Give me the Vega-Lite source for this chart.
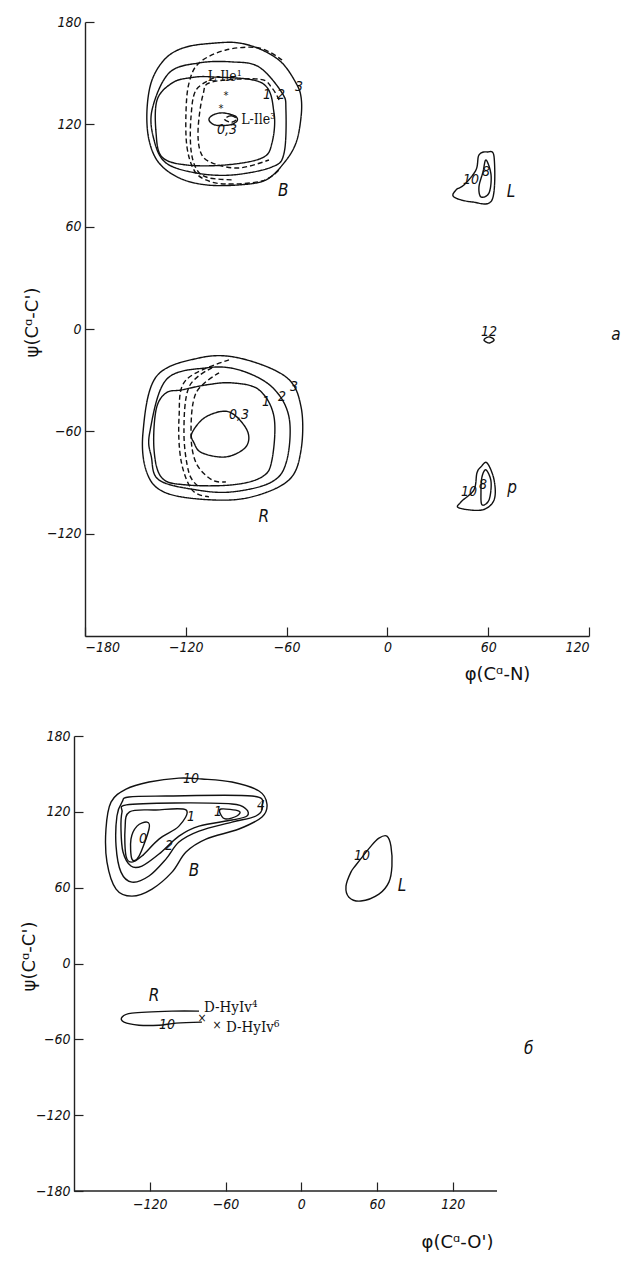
{
"$schema":"https://vega.github.io/schema/vega-lite/v6.json",
"padding":{"left":20,"top":15,"right":5,"bottom":5},
"spacing":46,
"background":"white",
"config":{"view":{"stroke":null},
 "axis":{"grid":false,"domainColor":"#222","tickColor":"#222","labelColor":"#111","titleColor":"#111","labelFont":"DejaVu Sans Condensed, DejaVu Sans","labelFontStyle":"italic","labelFontSize":14,"titleFont":"DejaVu Sans","titleFontSize":18,"titleFontWeight":"normal","tickSize":-9,"labelPadding":13,"domainWidth":1.4,"tickWidth":1.2},
 "text":{"font":"DejaVu Sans Condensed, DejaVu Sans","fill":"#111"}},
"datasets":{
"topLines":[
{"c":"B3","k":"closed","s":"solid","o":1,"x":-74.6,"y":163.6},{"c":"B3","k":"closed","s":"solid","o":2,"x":-88.3,"y":167.7},{"c":"B3","k":"closed","s":"solid","o":3,"x":-102,"y":167.7},{"c":"B3","k":"closed","s":"solid","o":4,"x":-119.9,"y":165.3},{"c":"B3","k":"closed","s":"solid","o":5,"x":-131.8,"y":158.9},{"c":"B3","k":"closed","s":"solid","o":6,"x":-140.1,"y":146},{"c":"B3","k":"closed","s":"solid","o":7,"x":-143.1,"y":128.4},{"c":"B3","k":"closed","s":"solid","o":8,"x":-141.9,"y":110.8},{"c":"B3","k":"closed","s":"solid","o":9,"x":-136,"y":97.4},{"c":"B3","k":"closed","s":"solid","o":10,"x":-124,"y":88.6},{"c":"B3","k":"closed","s":"solid","o":11,"x":-108,"y":84.5},{"c":"B3","k":"closed","s":"solid","o":12,"x":-88.3,"y":84.5},{"c":"B3","k":"closed","s":"solid","o":13,"x":-72.3,"y":87.4},{"c":"B3","k":"closed","s":"solid","o":14,"x":-61.5,"y":97.4},{"c":"B3","k":"closed","s":"solid","o":15,"x":-54.4,"y":109.1},{"c":"B3","k":"closed","s":"solid","o":16,"x":-51.4,"y":124.3},{"c":"B3","k":"closed","s":"solid","o":17,"x":-51.4,"y":136},{"c":"B3","k":"closed","s":"solid","o":18,"x":-54.4,"y":144.2},{"c":"B3","k":"closed","s":"solid","o":19,"x":-62.7,"y":156},
{"c":"B2","k":"closed","s":"solid","o":1,"x":-140.1,"y":128.4},{"c":"B2","k":"closed","s":"solid","o":2,"x":-130,"y":150.1},{"c":"B2","k":"closed","s":"solid","o":3,"x":-112.1,"y":156},{"c":"B2","k":"closed","s":"solid","o":4,"x":-92.5,"y":156.6},{"c":"B2","k":"closed","s":"solid","o":5,"x":-76.4,"y":153.6},{"c":"B2","k":"closed","s":"solid","o":6,"x":-62.7,"y":138.4},{"c":"B2","k":"closed","s":"solid","o":7,"x":-60.4,"y":128.4},{"c":"B2","k":"closed","s":"solid","o":8,"x":-61.5,"y":103.2},{"c":"B2","k":"closed","s":"solid","o":9,"x":-68.7,"y":95},{"c":"B2","k":"closed","s":"solid","o":10,"x":-92.5,"y":90.3},{"c":"B2","k":"closed","s":"solid","o":11,"x":-113.9,"y":91.5},{"c":"B2","k":"closed","s":"solid","o":12,"x":-131.8,"y":97.4},{"c":"B2","k":"closed","s":"solid","o":13,"x":-138.9,"y":110.8},
{"c":"B1","k":"closed","s":"solid","o":1,"x":-118.1,"y":147.2},{"c":"B1","k":"closed","s":"solid","o":2,"x":-104.4,"y":147.8},{"c":"B1","k":"closed","s":"solid","o":3,"x":-74.6,"y":144.2},{"c":"B1","k":"closed","s":"solid","o":4,"x":-67.5,"y":126.7},{"c":"B1","k":"closed","s":"solid","o":5,"x":-68.7,"y":109.1},{"c":"B1","k":"closed","s":"solid","o":6,"x":-74.6,"y":100.3},{"c":"B1","k":"closed","s":"solid","o":7,"x":-96.1,"y":96.2},{"c":"B1","k":"closed","s":"solid","o":8,"x":-119.9,"y":96.2},{"c":"B1","k":"closed","s":"solid","o":9,"x":-134.2,"y":100.9},{"c":"B1","k":"closed","s":"solid","o":10,"x":-137.7,"y":114.9},{"c":"B1","k":"closed","s":"solid","o":11,"x":-137.1,"y":134.3},{"c":"B1","k":"closed","s":"solid","o":12,"x":-128.2,"y":144.2},
{"c":"B03","k":"closed","s":"solid","o":1,"x":-106.2,"y":122.6},{"c":"B03","k":"closed","s":"solid","o":2,"x":-103.8,"y":125.5},{"c":"B03","k":"closed","s":"solid","o":3,"x":-97.9,"y":126.7},{"c":"B03","k":"closed","s":"solid","o":4,"x":-90.7,"y":124.9},{"c":"B03","k":"closed","s":"solid","o":5,"x":-89.5,"y":122},{"c":"B03","k":"closed","s":"solid","o":6,"x":-94.3,"y":119.6},{"c":"B03","k":"closed","s":"solid","o":7,"x":-102.6,"y":119.6},
{"c":"B03d","k":"closed","s":"dashed","o":1,"x":-97,"y":123.1},{"c":"B03d","k":"closed","s":"dashed","o":2,"x":-93,"y":125},{"c":"B03d","k":"closed","s":"dashed","o":3,"x":-89.6,"y":123.1},{"c":"B03d","k":"closed","s":"dashed","o":4,"x":-93,"y":121.2},
{"c":"BD1","k":"open","s":"dashed","o":1,"x":-62.7,"y":157.7},{"c":"BD1","k":"open","s":"dashed","o":2,"x":-76.4,"y":164.8},{"c":"BD1","k":"open","s":"dashed","o":3,"x":-96.1,"y":163.6},{"c":"BD1","k":"open","s":"dashed","o":4,"x":-112.1,"y":156},{"c":"BD1","k":"open","s":"dashed","o":5,"x":-118.1,"y":144.2},{"c":"BD1","k":"open","s":"dashed","o":6,"x":-119.9,"y":126.7},{"c":"BD1","k":"open","s":"dashed","o":7,"x":-119.3,"y":106.7},{"c":"BD1","k":"open","s":"dashed","o":8,"x":-115.1,"y":93.2},{"c":"BD1","k":"open","s":"dashed","o":9,"x":-108,"y":87.4},{"c":"BD1","k":"open","s":"dashed","o":10,"x":-96.1,"y":85},{"c":"BD1","k":"open","s":"dashed","o":11,"x":-74.6,"y":86.8},{"c":"BD1","k":"open","s":"dashed","o":12,"x":-64.5,"y":93.2},
{"c":"BD2","k":"open","s":"dashed","o":1,"x":-103.2,"y":147.2},{"c":"BD2","k":"open","s":"dashed","o":2,"x":-113.9,"y":140.1},{"c":"BD2","k":"open","s":"dashed","o":3,"x":-116.9,"y":124.3},{"c":"BD2","k":"open","s":"dashed","o":4,"x":-116.9,"y":105},{"c":"BD2","k":"open","s":"dashed","o":5,"x":-113.3,"y":93.2},{"c":"BD2","k":"open","s":"dashed","o":6,"x":-106.2,"y":88.6},{"c":"BD2","k":"open","s":"dashed","o":7,"x":-91.3,"y":87.4},
{"c":"BD3","k":"open","s":"dashed","o":1,"x":-64.5,"y":134.3},{"c":"BD3","k":"open","s":"dashed","o":2,"x":-68.7,"y":141.3},{"c":"BD3","k":"open","s":"dashed","o":3,"x":-76.4,"y":146.5},{"c":"BD3","k":"open","s":"dashed","o":4,"x":-104.4,"y":144.8},{"c":"BD3","k":"open","s":"dashed","o":5,"x":-109.8,"y":137.2},{"c":"BD3","k":"open","s":"dashed","o":6,"x":-112.7,"y":116.7},{"c":"BD3","k":"open","s":"dashed","o":7,"x":-111,"y":103.2},{"c":"BD3","k":"open","s":"dashed","o":8,"x":-104.4,"y":97.4},{"c":"BD3","k":"open","s":"dashed","o":9,"x":-88.3,"y":94.4},{"c":"BD3","k":"open","s":"dashed","o":10,"x":-70.5,"y":99.1},
{"c":"R3","k":"closed","s":"solid","o":1,"x":-145.5,"y":-60.9},{"c":"R3","k":"closed","s":"solid","o":2,"x":-137.7,"y":-28.1},{"c":"R3","k":"closed","s":"solid","o":3,"x":-112.1,"y":-17},{"c":"R3","k":"closed","s":"solid","o":4,"x":-88.3,"y":-17},{"c":"R3","k":"closed","s":"solid","o":5,"x":-60.4,"y":-28.1},{"c":"R3","k":"closed","s":"solid","o":6,"x":-51.4,"y":-45.7},{"c":"R3","k":"closed","s":"solid","o":7,"x":-51.4,"y":-70.9},{"c":"R3","k":"closed","s":"solid","o":8,"x":-58.6,"y":-88.5},{"c":"R3","k":"closed","s":"solid","o":9,"x":-80.6,"y":-98.4},{"c":"R3","k":"closed","s":"solid","o":10,"x":-104.4,"y":-100.2},{"c":"R3","k":"closed","s":"solid","o":11,"x":-131.8,"y":-96.1},{"c":"R3","k":"closed","s":"solid","o":12,"x":-143.1,"y":-84.4},
{"c":"R2","k":"closed","s":"solid","o":1,"x":-141.5,"y":-60.9},{"c":"R2","k":"closed","s":"solid","o":2,"x":-131.8,"y":-29.9},{"c":"R2","k":"closed","s":"solid","o":3,"x":-108,"y":-22.8},{"c":"R2","k":"closed","s":"solid","o":4,"x":-88.3,"y":-24},{"c":"R2","k":"closed","s":"solid","o":5,"x":-68.7,"y":-34},{"c":"R2","k":"closed","s":"solid","o":6,"x":-58.6,"y":-51.5},{"c":"R2","k":"closed","s":"solid","o":7,"x":-59.8,"y":-76.7},{"c":"R2","k":"closed","s":"solid","o":8,"x":-68.7,"y":-89.6},{"c":"R2","k":"closed","s":"solid","o":9,"x":-92.5,"y":-95.5},{"c":"R2","k":"closed","s":"solid","o":10,"x":-113.9,"y":-94.3},{"c":"R2","k":"closed","s":"solid","o":11,"x":-136,"y":-88.5},{"c":"R2","k":"closed","s":"solid","o":12,"x":-140.5,"y":-75},
{"c":"R1","k":"closed","s":"solid","o":1,"x":-122.3,"y":-35.7},{"c":"R1","k":"closed","s":"solid","o":2,"x":-108,"y":-32.8},{"c":"R1","k":"closed","s":"solid","o":3,"x":-92.5,"y":-31.6},{"c":"R1","k":"closed","s":"solid","o":4,"x":-76.4,"y":-35.7},{"c":"R1","k":"closed","s":"solid","o":5,"x":-67.5,"y":-51.5},{"c":"R1","k":"closed","s":"solid","o":6,"x":-68.7,"y":-76.7},{"c":"R1","k":"closed","s":"solid","o":7,"x":-74.6,"y":-86.7},{"c":"R1","k":"closed","s":"solid","o":8,"x":-92.5,"y":-91.4},{"c":"R1","k":"closed","s":"solid","o":9,"x":-119.9,"y":-91.4},{"c":"R1","k":"closed","s":"solid","o":10,"x":-134.2,"y":-87.3},{"c":"R1","k":"closed","s":"solid","o":11,"x":-138.9,"y":-70.9},{"c":"R1","k":"closed","s":"solid","o":12,"x":-137.7,"y":-47.4},{"c":"R1","k":"closed","s":"solid","o":13,"x":-131.8,"y":-37.5},
{"c":"R03","k":"closed","s":"solid","o":1,"x":-116.3,"y":-60.9},{"c":"R03","k":"closed","s":"solid","o":2,"x":-108,"y":-51.5},{"c":"R03","k":"closed","s":"solid","o":3,"x":-94.3,"y":-48.6},{"c":"R03","k":"closed","s":"solid","o":4,"x":-83.6,"y":-59.2},{"c":"R03","k":"closed","s":"solid","o":5,"x":-84.2,"y":-69.1},{"c":"R03","k":"closed","s":"solid","o":6,"x":-96.1,"y":-75},{"c":"R03","k":"closed","s":"solid","o":7,"x":-110.4,"y":-72.6},{"c":"R03","k":"closed","s":"solid","o":8,"x":-115.1,"y":-66.8},
{"c":"RD1","k":"open","s":"dashed","o":1,"x":-94.3,"y":-18.1},{"c":"RD1","k":"open","s":"dashed","o":2,"x":-119.9,"y":-29.9},{"c":"RD1","k":"open","s":"dashed","o":3,"x":-124,"y":-51.5},{"c":"RD1","k":"open","s":"dashed","o":4,"x":-122.9,"y":-76.7},{"c":"RD1","k":"open","s":"dashed","o":5,"x":-116.3,"y":-94.3},{"c":"RD1","k":"open","s":"dashed","o":6,"x":-106.2,"y":-98.4},
{"c":"RD2","k":"open","s":"dashed","o":1,"x":-104.4,"y":-22.8},{"c":"RD2","k":"open","s":"dashed","o":2,"x":-118.1,"y":-34},{"c":"RD2","k":"open","s":"dashed","o":3,"x":-121.1,"y":-60.9},{"c":"RD2","k":"open","s":"dashed","o":4,"x":-118.1,"y":-84.4},{"c":"RD2","k":"open","s":"dashed","o":5,"x":-112.1,"y":-92.6},
{"c":"RD3","k":"open","s":"dashed","o":1,"x":-100.2,"y":-25.7},{"c":"RD3","k":"open","s":"dashed","o":2,"x":-113.9,"y":-37.5},{"c":"RD3","k":"open","s":"dashed","o":3,"x":-116.9,"y":-60.9},{"c":"RD3","k":"open","s":"dashed","o":4,"x":-113.9,"y":-78.5},{"c":"RD3","k":"open","s":"dashed","o":5,"x":-104.4,"y":-88.5},{"c":"RD3","k":"open","s":"dashed","o":6,"x":-96.1,"y":-89.6},
{"c":"L10","k":"closed","s":"solid","o":1,"x":39.6,"y":77.4},{"c":"L10","k":"closed","s":"solid","o":2,"x":50.4,"y":74.5},{"c":"L10","k":"closed","s":"solid","o":3,"x":62.3,"y":75.7},{"c":"L10","k":"closed","s":"solid","o":4,"x":63.5,"y":100.9},{"c":"L10","k":"closed","s":"solid","o":5,"x":59.3,"y":103.8},{"c":"L10","k":"closed","s":"solid","o":6,"x":54.5,"y":102},{"c":"L10","k":"closed","s":"solid","o":7,"x":52.7,"y":93.2},{"c":"L10","k":"closed","s":"solid","o":8,"x":45.6,"y":84.5},{"c":"L10","k":"closed","s":"solid","o":9,"x":40.8,"y":81.5},
{"c":"L8","k":"closed","s":"solid","o":1,"x":58.7,"y":99.1},{"c":"L8","k":"closed","s":"solid","o":2,"x":61.7,"y":90.3},{"c":"L8","k":"closed","s":"solid","o":3,"x":60.5,"y":79.8},{"c":"L8","k":"closed","s":"solid","o":4,"x":55.7,"y":77.4},{"c":"L8","k":"closed","s":"solid","o":5,"x":54.5,"y":83.3},{"c":"L8","k":"closed","s":"solid","o":6,"x":56.9,"y":92.1},
{"c":"P10","k":"closed","s":"solid","o":1,"x":59.3,"y":-78.5},{"c":"P10","k":"closed","s":"solid","o":2,"x":63.5,"y":-88.5},{"c":"P10","k":"closed","s":"solid","o":3,"x":63.5,"y":-100.2},{"c":"P10","k":"closed","s":"solid","o":4,"x":56.3,"y":-106.1},{"c":"P10","k":"closed","s":"solid","o":5,"x":42.6,"y":-104.9},{"c":"P10","k":"closed","s":"solid","o":6,"x":43.8,"y":-101.4},{"c":"P10","k":"closed","s":"solid","o":7,"x":51.5,"y":-94.3},{"c":"P10","k":"closed","s":"solid","o":8,"x":53.3,"y":-84.4},{"c":"P10","k":"closed","s":"solid","o":9,"x":55.7,"y":-80.8},
{"c":"P8","k":"closed","s":"solid","o":1,"x":58.7,"y":-82.6},{"c":"P8","k":"closed","s":"solid","o":2,"x":61.7,"y":-89.6},{"c":"P8","k":"closed","s":"solid","o":3,"x":60.5,"y":-100.2},{"c":"P8","k":"closed","s":"solid","o":4,"x":56.3,"y":-103.1},{"c":"P8","k":"closed","s":"solid","o":5,"x":55.7,"y":-95.5},{"c":"P8","k":"closed","s":"solid","o":6,"x":56.3,"y":-86.7},
{"c":"Q12","k":"closed","s":"solid","o":1,"x":57.5,"y":-6.4},{"c":"Q12","k":"closed","s":"solid","o":2,"x":60.5,"y":-4.6},{"c":"Q12","k":"closed","s":"solid","o":3,"x":63.5,"y":-6.4},{"c":"Q12","k":"closed","s":"solid","o":4,"x":60.5,"y":-8.2}
],
"topLabels":[
{"t":"L-Ile¹","g":"name","x":-107,"y":147.5},{"t":"L-Ile³","g":"name","x":-87,"y":122.6},
{"t":"0,3","g":"num","x":-95.5,"y":116.7},{"t":"1","g":"num","x":-71.7,"y":137.2},{"t":"2","g":"num","x":-63.3,"y":137.2},{"t":"3","g":"num","x":-52.6,"y":141.9},
{"t":"0,3","g":"num","x":-88.3,"y":-50.4},{"t":"1","g":"num","x":-72.3,"y":-42.7},{"t":"2","g":"num","x":-62.7,"y":-39.8},{"t":"3","g":"num","x":-55.6,"y":-34},
{"t":"10","g":"num","x":49.8,"y":87.4},{"t":"8","g":"num","x":58.7,"y":92.1},{"t":"10","g":"num","x":48.6,"y":-95.5},{"t":"8","g":"num","x":56.9,"y":-91.4},{"t":"12","g":"num","x":60.5,"y":-1.5},
{"t":"B","g":"region","x":-62,"y":81},{"t":"R","g":"region","x":-73.5,"y":-110.2},{"t":"L","g":"region","x":73.6,"y":80.4},{"t":"p","g":"region","x":74.2,"y":-93.2},{"t":"а","g":"region","x":136,"y":-3.5},
{"t":"*","g":"mark","x":-96.1,"y":136.5},{"t":"*","g":"mark","x":-99,"y":129}
],
"botLines":[
{"c":"B10","k":"closed","s":"solid","o":1,"x":-78.7,"y":146},{"c":"B10","k":"closed","s":"solid","o":2,"x":-54.9,"y":143.6},{"c":"B10","k":"closed","s":"solid","o":3,"x":-33.5,"y":136.5},{"c":"B10","k":"closed","s":"solid","o":4,"x":-27.2,"y":126.2},{"c":"B10","k":"closed","s":"solid","o":5,"x":-31.1,"y":115.9},{"c":"B10","k":"closed","s":"solid","o":6,"x":-49.4,"y":106.4},{"c":"B10","k":"closed","s":"solid","o":7,"x":-75.5,"y":98.4},{"c":"B10","k":"closed","s":"solid","o":8,"x":-91.3,"y":88.2},{"c":"B10","k":"closed","s":"solid","o":9,"x":-102.4,"y":72.3},{"c":"B10","k":"closed","s":"solid","o":10,"x":-118.2,"y":58.9},{"c":"B10","k":"closed","s":"solid","o":11,"x":-134.1,"y":53.3},{"c":"B10","k":"closed","s":"solid","o":12,"x":-146.7,"y":58.9},{"c":"B10","k":"closed","s":"solid","o":13,"x":-153.9,"y":80.2},{"c":"B10","k":"closed","s":"solid","o":14,"x":-154.7,"y":106.4},{"c":"B10","k":"closed","s":"solid","o":15,"x":-150.7,"y":127.7},{"c":"B10","k":"closed","s":"solid","o":16,"x":-138.8,"y":138},{"c":"B10","k":"closed","s":"solid","o":17,"x":-120.6,"y":143.6},{"c":"B10","k":"closed","s":"solid","o":18,"x":-96.9,"y":146.7},
{"c":"B4","k":"closed","s":"solid","o":1,"x":-136.5,"y":131.7},{"c":"B4","k":"closed","s":"solid","o":2,"x":-107.2,"y":132.5},{"c":"B4","k":"closed","s":"solid","o":3,"x":-39.1,"y":132.5},{"c":"B4","k":"closed","s":"solid","o":4,"x":-31,"y":124.5},{"c":"B4","k":"closed","s":"solid","o":5,"x":-35.9,"y":116.7},{"c":"B4","k":"closed","s":"solid","o":6,"x":-54.9,"y":111.9},{"c":"B4","k":"closed","s":"solid","o":7,"x":-81,"y":104.8},{"c":"B4","k":"closed","s":"solid","o":8,"x":-96.9,"y":96.1},{"c":"B4","k":"closed","s":"solid","o":9,"x":-107.2,"y":82.6},{"c":"B4","k":"closed","s":"solid","o":10,"x":-120.6,"y":69.2},{"c":"B4","k":"closed","s":"solid","o":11,"x":-134.1,"y":64.4},{"c":"B4","k":"closed","s":"solid","o":12,"x":-142.8,"y":72.3},{"c":"B4","k":"closed","s":"solid","o":13,"x":-146.7,"y":92.9},{"c":"B4","k":"closed","s":"solid","o":14,"x":-146,"y":116.7},{"c":"B4","k":"closed","s":"solid","o":15,"x":-142,"y":127.7},
{"c":"B2","k":"closed","s":"solid","o":1,"x":-138.5,"y":125.5},{"c":"B2","k":"closed","s":"solid","o":2,"x":-100,"y":127},{"c":"B2","k":"closed","s":"solid","o":3,"x":-54.9,"y":126.2},{"c":"B2","k":"closed","s":"solid","o":4,"x":-43.8,"y":122.2},{"c":"B2","k":"closed","s":"solid","o":5,"x":-43,"y":116.7},{"c":"B2","k":"closed","s":"solid","o":6,"x":-54.9,"y":113.5},{"c":"B2","k":"closed","s":"solid","o":7,"x":-81,"y":108.7},{"c":"B2","k":"closed","s":"solid","o":8,"x":-96.9,"y":100.8},{"c":"B2","k":"closed","s":"solid","o":9,"x":-112.7,"y":86.6},{"c":"B2","k":"closed","s":"solid","o":10,"x":-126.2,"y":77.1},{"c":"B2","k":"closed","s":"solid","o":11,"x":-134.9,"y":77.1},{"c":"B2","k":"closed","s":"solid","o":12,"x":-141.2,"y":88.2},{"c":"B2","k":"closed","s":"solid","o":13,"x":-142.8,"y":106.4},{"c":"B2","k":"closed","s":"solid","o":14,"x":-142,"y":119.8},
{"c":"B1","k":"closed","s":"solid","o":1,"x":-136,"y":120},{"c":"B1","k":"closed","s":"solid","o":2,"x":-115,"y":121.5},{"c":"B1","k":"closed","s":"solid","o":3,"x":-91.3,"y":121.5},{"c":"B1","k":"closed","s":"solid","o":4,"x":-96.9,"y":108.7},{"c":"B1","k":"closed","s":"solid","o":5,"x":-112.7,"y":98.4},{"c":"B1","k":"closed","s":"solid","o":6,"x":-126.2,"y":85},{"c":"B1","k":"closed","s":"solid","o":7,"x":-134.1,"y":80.2},{"c":"B1","k":"closed","s":"solid","o":8,"x":-138.8,"y":85},{"c":"B1","k":"closed","s":"solid","o":9,"x":-139.6,"y":106.4},
{"c":"B1s","k":"closed","s":"solid","o":1,"x":-63.6,"y":122.2},{"c":"B1s","k":"closed","s":"solid","o":2,"x":-49.4,"y":120.6},{"c":"B1s","k":"closed","s":"solid","o":3,"x":-51,"y":116.7},{"c":"B1s","k":"closed","s":"solid","o":4,"x":-59.7,"y":114.3},{"c":"B1s","k":"closed","s":"solid","o":5,"x":-63.6,"y":117.5},
{"c":"B0","k":"closed","s":"solid","o":1,"x":-122.2,"y":111.9},{"c":"B0","k":"closed","s":"solid","o":2,"x":-120.6,"y":106.4},{"c":"B0","k":"closed","s":"solid","o":3,"x":-128.5,"y":85},{"c":"B0","k":"closed","s":"solid","o":4,"x":-134.1,"y":82.6},{"c":"B0","k":"closed","s":"solid","o":5,"x":-134.9,"y":98.4},{"c":"B0","k":"closed","s":"solid","o":6,"x":-130.1,"y":108.7},
{"c":"L10","k":"closed","s":"solid","o":1,"x":55.2,"y":92.9},{"c":"L10","k":"closed","s":"solid","o":2,"x":61.5,"y":99.2},{"c":"L10","k":"closed","s":"solid","o":3,"x":67.8,"y":100.8},{"c":"L10","k":"closed","s":"solid","o":4,"x":71,"y":92.9},{"c":"L10","k":"closed","s":"solid","o":5,"x":71.8,"y":77.1},{"c":"L10","k":"closed","s":"solid","o":6,"x":69.4,"y":64.4},{"c":"L10","k":"closed","s":"solid","o":7,"x":61.5,"y":54.9},{"c":"L10","k":"closed","s":"solid","o":8,"x":47.2,"y":49.4},{"c":"L10","k":"closed","s":"solid","o":9,"x":37.7,"y":52.5},{"c":"L10","k":"closed","s":"solid","o":10,"x":35.4,"y":61.2},{"c":"L10","k":"closed","s":"solid","o":11,"x":39.3,"y":72.3},{"c":"L10","k":"closed","s":"solid","o":12,"x":43.3,"y":77.9},
{"c":"R10","k":"open","s":"solid","o":1,"x":-81,"y":-37.7},{"c":"R10","k":"open","s":"solid","o":2,"x":-102.4,"y":-37.7},{"c":"R10","k":"open","s":"solid","o":3,"x":-134.1,"y":-39.3},{"c":"R10","k":"open","s":"solid","o":4,"x":-142,"y":-42.5},{"c":"R10","k":"open","s":"solid","o":5,"x":-140.4,"y":-46.4},{"c":"R10","k":"open","s":"solid","o":6,"x":-128.5,"y":-48.8},{"c":"R10","k":"open","s":"solid","o":7,"x":-112.7,"y":-48.8},{"c":"R10","k":"open","s":"solid","o":8,"x":-99.2,"y":-47.2},{"c":"R10","k":"open","s":"solid","o":9,"x":-78.7,"y":-46.4}
],
"botLabels":[
{"t":"10","g":"num","x":-87.4,"y":146},{"t":"4","g":"num","x":-32,"y":124.6},{"t":"1","g":"num","x":-87.4,"y":115.9},{"t":"1","g":"num","x":-66,"y":119.8},{"t":"2","g":"num","x":-104.8,"y":92.9},{"t":"0","g":"num","x":-125.4,"y":98.4},{"t":"10","g":"num","x":48,"y":85},{"t":"10","g":"num","x":-106.4,"y":-48.8},
{"t":"B","g":"region","x":-85,"y":73.1},{"t":"L","g":"region","x":79.7,"y":61.2},{"t":"R","g":"region","x":-116.7,"y":-25.9},{"t":"б","g":"region","x":180.2,"y":-67.8},
{"t":"D-HyIv⁴","g":"name","x":-77.1,"y":-34.6},{"t":"D-HyIv⁶","g":"name","x":-59.7,"y":-50.4},
{"t":"×","g":"mark","x":-78.7,"y":-43.3},{"t":"×","g":"mark","x":-66.8,"y":-48.8}
],
"botFrame":[{"x":-180,"x2":155,"y":-180}]
},
"vconcat":[
{"width":504,"height":614,
 "encoding":{
  "x":{"field":"x","type":"quantitative","scale":{"domain":[-180,120],"nice":false,"zero":false},
       "axis":{"title":"φ(Cᵅ-N)","values":[-180,-120,-60,0,60,120],"titleX":412,"titleY":38,"titleBaseline":"middle","labelPadding":13}},
  "y":{"field":"y","type":"quantitative","scale":{"domain":[-180,180],"nice":false,"zero":false},
       "axis":{"title":"ψ(Cᵅ-C')","values":[-120,-60,0,60,120,180],"titleAngle":270,"titleX":-53,"titleY":300,"titleBaseline":"middle","titleAlign":"center"}}},
 "layer":[
  {"data":{"name":"topLines"},"transform":[{"filter":"datum.k=='closed'"}],
   "mark":{"type":"line","interpolate":"cardinal-closed","strokeWidth":1.4,"color":"#111"},
   "encoding":{"detail":{"field":"c"},"order":{"field":"o"},"strokeDash":{"field":"s","scale":{"domain":["solid","dashed"],"range":[[1,0],[5,3]]},"legend":null}}},
  {"data":{"name":"topLines"},"transform":[{"filter":"datum.k=='open'"}],
   "mark":{"type":"line","interpolate":"cardinal","strokeWidth":1.4,"color":"#111"},
   "encoding":{"detail":{"field":"c"},"order":{"field":"o"},"strokeDash":{"field":"s","scale":{"domain":["solid","dashed"],"range":[[1,0],[5,3]]},"legend":null}}},
  {"data":{"name":"topLabels"},"transform":[{"filter":"datum.g=='num'"}],
   "mark":{"type":"text","fontSize":14,"fontStyle":"italic"},"encoding":{"text":{"field":"t"}}},
  {"data":{"name":"topLabels"},"transform":[{"filter":"datum.g=='region'"}],
   "mark":{"type":"text","fontSize":17,"fontStyle":"italic"},"encoding":{"text":{"field":"t"}}},
  {"data":{"name":"topLabels"},"transform":[{"filter":"datum.g=='name'"}],
   "mark":{"type":"text","fontSize":14,"align":"left","font":"DejaVu Serif Condensed, DejaVu Serif"},"encoding":{"text":{"field":"t"}}},
  {"data":{"name":"topLabels"},"transform":[{"filter":"datum.g=='mark'"}],
   "mark":{"type":"text","fontSize":11},"encoding":{"text":{"field":"t"}}}
 ]},
{"width":412,"height":455,
 "encoding":{
  "x":{"field":"x","type":"quantitative","scale":{"domain":[-171.3,155],"nice":false,"zero":false},
       "axis":{"title":"φ(Cᵅ-O')","values":[-120,-60,0,60,120],"domain":false,"titleX":372,"titleY":51,"titleBaseline":"middle","labelPadding":15}},
  "y":{"field":"y","type":"quantitative","scale":{"domain":[-180,180],"nice":false,"zero":false},
       "axis":{"title":"ψ(Cᵅ-C')","values":[-180,-120,-60,0,60,120,180],"offset":11,"titleAngle":270,"titleX":-45,"titleY":220,"titleBaseline":"middle","titleAlign":"center"}}},
 "layer":[
  {"data":{"name":"botFrame"},"mark":{"type":"rule","color":"#222","strokeWidth":1.4},"encoding":{"x2":{"field":"x2"}}},
  {"data":{"name":"botLines"},"transform":[{"filter":"datum.k=='closed'"}],
   "mark":{"type":"line","interpolate":"cardinal-closed","strokeWidth":1.4,"color":"#111"},
   "encoding":{"detail":{"field":"c"},"order":{"field":"o"}}},
  {"data":{"name":"botLines"},"transform":[{"filter":"datum.k=='open'"}],
   "mark":{"type":"line","interpolate":"cardinal","strokeWidth":1.4,"color":"#111"},
   "encoding":{"detail":{"field":"c"},"order":{"field":"o"}}},
  {"data":{"name":"botLabels"},"transform":[{"filter":"datum.g=='num'"}],
   "mark":{"type":"text","fontSize":14,"fontStyle":"italic"},"encoding":{"text":{"field":"t"}}},
  {"data":{"name":"botLabels"},"transform":[{"filter":"datum.g=='region'"}],
   "mark":{"type":"text","fontSize":17,"fontStyle":"italic"},"encoding":{"text":{"field":"t"}}},
  {"data":{"name":"botLabels"},"transform":[{"filter":"datum.g=='name'"}],
   "mark":{"type":"text","fontSize":15,"align":"left","font":"DejaVu Serif Condensed, DejaVu Serif"},"encoding":{"text":{"field":"t"}}},
  {"data":{"name":"botLabels"},"transform":[{"filter":"datum.g=='mark'"}],
   "mark":{"type":"text","fontSize":12},"encoding":{"text":{"field":"t"}}}
 ]}
]
}
